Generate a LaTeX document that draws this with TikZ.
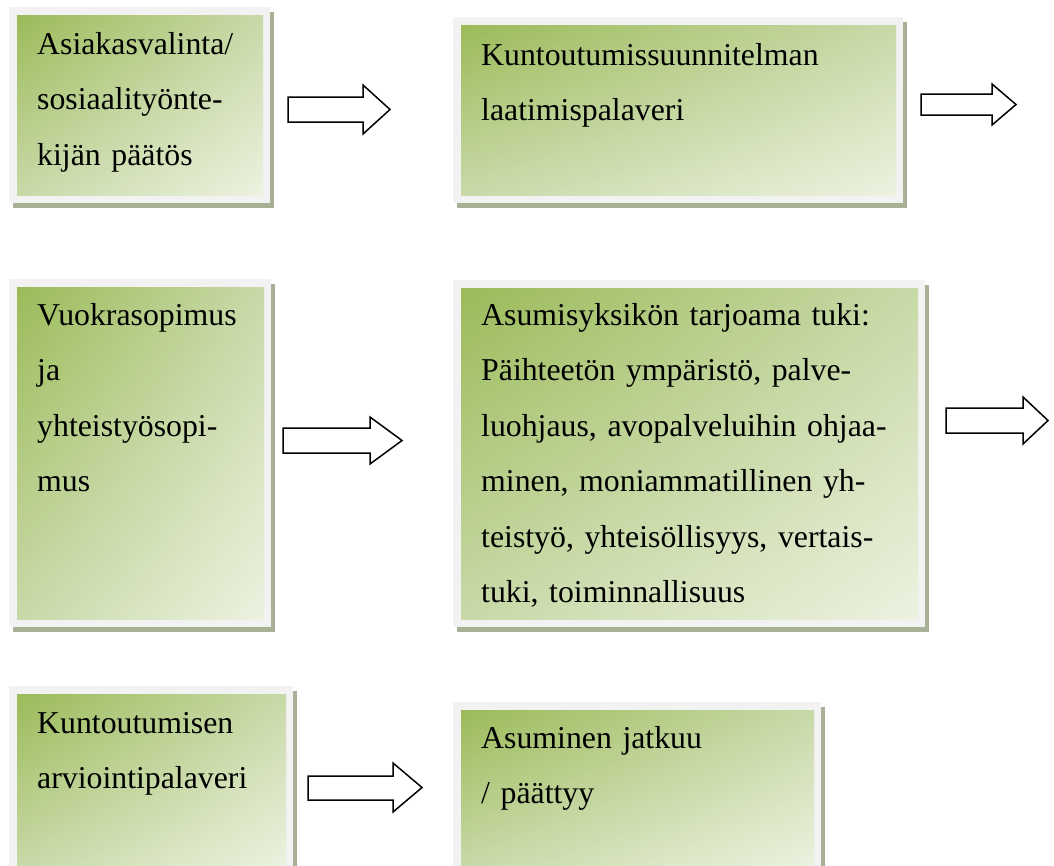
\documentclass[tikz,border=0pt]{standalone}
\usepackage{fontspec}
\setmainfont{Liberation Serif}
\usetikzlibrary{shadings}
\definecolor{gA}{RGB}{155,187,89}
\definecolor{gM}{RGB}{200,217,168}
\definecolor{gB}{RGB}{236,242,224}
\definecolor{frameGray}{RGB}{242,242,242}
\definecolor{shadowCol}{RGB}{168,176,150}
\newcommand{\gbox}[4]{%
  \fill[shadowCol] ({#1+4},{#2+5}) rectangle ({#3+4},{#4+5});
  \fill[frameGray] (#1,#2) rectangle (#3,#4);
  \shade[upper left=gA, upper right=gM, lower left=gM, lower right=gB]
    ({#1+8},{#2+8}) rectangle ({#3-7},{#4-8});
}
\tikzset{
  boxtext/.style={anchor=north west, inner sep=0pt, align=left,
    font=\fontsize{31.8}{55.5}\selectfont, text width=#1},
  blockarrow/.style={draw=black, fill=white, line width=1.5pt, line join=miter}
}
\begin{document}
\begin{tikzpicture}[x=1pt,y=-1pt]
\useasboundingbox (0,0) rectangle (1054,865);
\clip (0,0) rectangle (1054,865);
\fill[white] (0,0) rectangle (1054,865);
% boxes
\gbox{9}{7}{270}{203}
\gbox{453}{17}{903}{203}
\gbox{9}{279}{271}{627}
\gbox{453}{280}{925}{627}
\gbox{9}{686}{293}{876}
\gbox{453}{702}{821}{876}
% texts
\node[boxtext=240pt] (t1) at (37,{54-38.85}) {\strut Asiakasvalinta/\\sosiaalityönte-\\kijän päätös};
\node[boxtext=420pt] (t2) at (481,{65-38.85}) {\strut Kuntoutumissuunnitelman\\laatimispalaveri};
\node[boxtext=240pt] (t3) at (37,{325-38.85}) {\strut Vuokrasopimus\\ja\\yhteistyösopi-\\mus};
\node[boxtext=430pt] (t4) at (481,{325-38.85}) {\strut Asumisyksikön tarjoama tuki:\\Päihteetön ympäristö, palve-\\luohjaus, avopalveluihin ohjaa-\\minen, moniammatillinen yh-\\teistyö, yhteisöllisyys, vertais-\\tuki, toiminnallisuus};
\node[boxtext=260pt] (t5) at (37,{733-38.85}) {\strut Kuntoutumisen\\arviointipalaveri};
\node[boxtext=330pt] (t6) at (481,{748-38.85}) {\strut Asuminen jatkuu\\/ päättyy};
% block arrows
\draw[blockarrow] (288,97) -- (363,97) -- (363,85) -- (390,109.5) -- (363,134) -- (363,122) -- (288,122) -- cycle;
\draw[blockarrow] (921,94) -- (992,94) -- (992,84) -- (1016,104.5) -- (992,125) -- (992,115) -- (921,115) -- cycle;
\draw[blockarrow] (283,428) -- (370,428) -- (370,417) -- (402,440.5) -- (370,464) -- (370,453) -- (283,453) -- cycle;
\draw[blockarrow] (946,408) -- (1023,408) -- (1023,397) -- (1048,420.5) -- (1023,444) -- (1023,433) -- (946,433) -- cycle;
\draw[blockarrow] (308,776) -- (393,776) -- (393,763) -- (422,787.5) -- (393,812) -- (393,800) -- (308,800) -- cycle;
\end{tikzpicture}
\end{document}
